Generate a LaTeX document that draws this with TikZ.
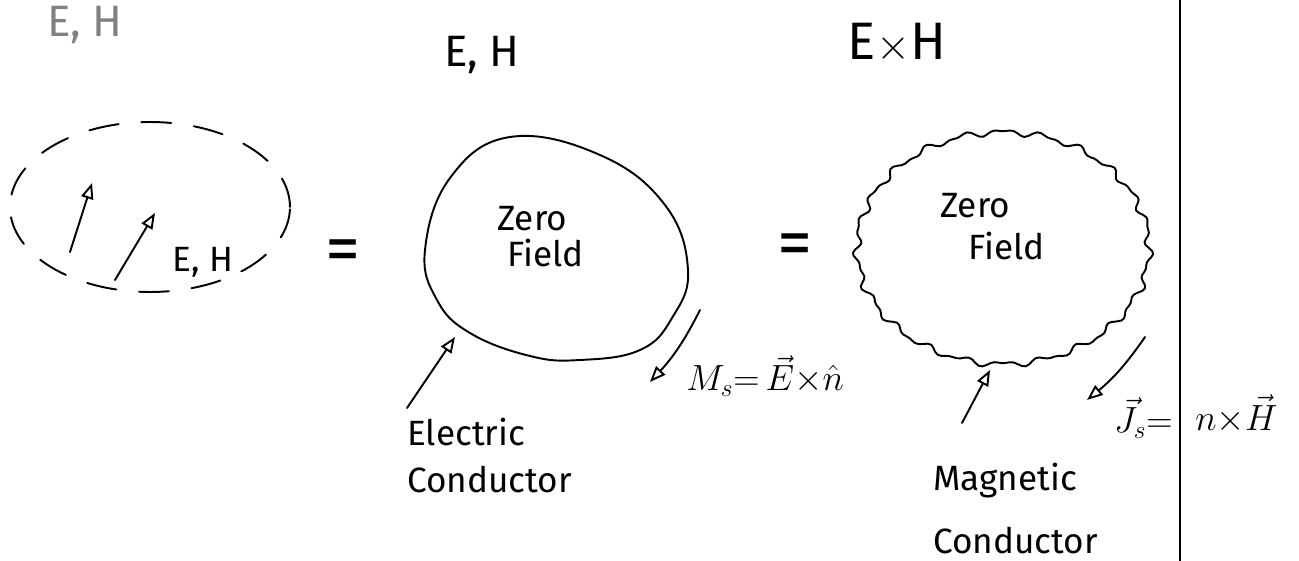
\documentclass[tikz,border=0pt]{standalone}
\usepackage{fontspec}
\setmainfont{Fira Sans}
\usetikzlibrary{arrows.meta}
\begin{document}
\begin{tikzpicture}[x=0.02cm,y=-0.02cm,
  pen/.style={line width=1.1pt, line cap=round, line join=round},
  arr/.style={pen,-{Triangle[open,length=9pt,width=7pt,line width=1.1pt]}},
  txt/.style={inner sep=0pt, font=\fontsize{20}{24}\selectfont},
  hdr/.style={inner sep=0pt, font=\fontsize{25}{30}\selectfont},
  eqs/.style={inner sep=0pt, font=\fontsize{40}{40}\selectfont},
  frm/.style={inner sep=0pt, font=\fontsize{22}{26}\selectfont}]
\useasboundingbox (0,0) rectangle (1299,561);

% headings
\node[hdr, text=gray] (eh0) at (85,25) {E, H};
\node[hdr] (eh1) at (482,55) {E, H};
\node[hdr, font=\fontsize{30}{34}\selectfont] (exh) at (897,43) {E$\times$H};

% left: dashed surface with sources
\draw[pen, dash pattern=on 17pt off 13pt] (150,207) ellipse [x radius=2.8cm, y radius=1.7cm];
\coordinate (a1t) at (70,252); \coordinate (a1h) at (92,183);
\coordinate (a2t) at (115,280); \coordinate (a2h) at (155,213);
\draw[arr] (a1t) -- (a1h);
\draw[arr] (a2t) -- (a2h);
\node[txt] (ehin) at (203,262) {E, H};

% equals signs
\node[eqs] (eq1) at (343,256) {=};
\node[eqs] (eq2) at (795,250) {=};

% middle: electric conductor
\draw[pen] plot[smooth cycle, tension=0.7] coordinates {
  (425,250) (450,178) (510,137) (600,155) (665,205) (688,270)
  (672,318) (640,350) (580,360) (530,356) (470,333) (437,300)};
\node[txt, anchor=base west] (zf1a) at (497,230) {Zero};
\node[txt, anchor=base west] (zf1b) at (507,266) {Field};
\coordinate (ect) at (407,408); \coordinate (ech) at (455,337);
\draw[arr] (ect) -- (ech);
\node[txt, anchor=base west] (el1) at (407,445) {Electric};
\node[txt, anchor=base west] (el2) at (407,492) {Conductor};
\coordinate (mst) at (700,310); \coordinate (msh) at (650,382);
\draw[arr] (mst) to[bend left=8] (msh);
\node[frm, anchor=west] (msl) at (686,376) {$M_s{=}\,\vec{E}{\times}\hat{n}$};

% right: magnetic conductor (wiggly)
\draw[pen] plot[domain=0:360, samples=240, variable=\t]
  ({1003+146*cos(\t)*(1+0.02*sin(23*\t)+0.013*sin(41*\t))},
   {248+116*sin(\t)*(1+0.02*sin(23*\t)+0.013*sin(41*\t))}) -- cycle;
\node[txt, anchor=base west] (zf2a) at (940,217) {Zero};
\node[txt, anchor=base west] (zf2b) at (968,259) {Field};
\coordinate (mct) at (962,423); \coordinate (mch) at (990,370);
\draw[arr] (mct) -- (mch);
\node[txt, anchor=base west] (ml1) at (933,490) {Magnetic};
\node[txt, anchor=base west] (ml2) at (933,553) {Conductor};
\coordinate (jst) at (1145,337); \coordinate (jsh) at (1087,400);
\draw[arr] (jst) to[bend left=8] (jsh);
\node[frm, anchor=east] (jsl) at (1173,418) {$\vec{J}_s{=}$};
\node[frm, anchor=west] (nxh) at (1195,414) {$n{\times}\vec{H}$};

% separator
\coordinate (vtop) at (1180,0); \coordinate (vbot) at (1180,561);
\draw[pen] (vtop) -- (vbot);
\end{tikzpicture}
\end{document}
